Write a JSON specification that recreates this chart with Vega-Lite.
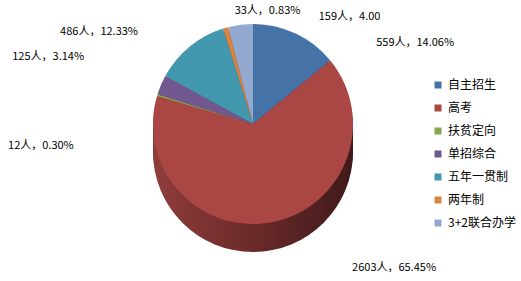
{
  "$schema": "https://vega.github.io/schema/vega-lite/v6.json",
  "width": 506,
  "height": 248,
  "padding": 0,
  "background": "white",
  "config": {"view": {"stroke": null}, "font": "Noto Sans CJK SC"},
  "data": {"values": [
    {"i": 1, "cat": "自主招生", "count": 559, "label": "559人，14.06%"},
    {"i": 2, "cat": "高考", "count": 2603, "label": "2603人，65.45%"},
    {"i": 3, "cat": "扶贫定向", "count": 12, "label": "12人，0.30%"},
    {"i": 4, "cat": "单招综合", "count": 125, "label": "125人，3.14%"},
    {"i": 5, "cat": "五年一贯制", "count": 486, "label": "486人，12.33%"},
    {"i": 6, "cat": "两年制", "count": 33, "label": "33人，0.83%"},
    {"i": 7, "cat": "3+2联合办学", "count": 159, "label": "159人，4.00"}
  ]},
  "layer": [
    {"transform": [{"filter": "datum.cat === '高考'"}], "mark": {"type": "arc", "radius": 100, "yOffset": 28, "color": {"gradient": "linear", "x1": 0, "x2": 1, "y1": 0, "y2": 0, "stops": [{"offset": 0, "color": "#8f3d3b"}, {"offset": 0.5, "color": "#6b2a29"}, {"offset": 1, "color": "#3f1a1a"}]}}, "encoding": {}},
    {"transform": [{"filter": "datum.cat === '高考'"}], "mark": {"type": "arc", "radius": 100, "yOffset": 25, "color": {"gradient": "linear", "x1": 0, "x2": 1, "y1": 0, "y2": 0, "stops": [{"offset": 0, "color": "#8f3d3b"}, {"offset": 0.5, "color": "#6b2a29"}, {"offset": 1, "color": "#3f1a1a"}]}}, "encoding": {}},
    {"transform": [{"filter": "datum.cat === '高考'"}], "mark": {"type": "arc", "radius": 100, "yOffset": 22, "color": {"gradient": "linear", "x1": 0, "x2": 1, "y1": 0, "y2": 0, "stops": [{"offset": 0, "color": "#8f3d3b"}, {"offset": 0.5, "color": "#6b2a29"}, {"offset": 1, "color": "#3f1a1a"}]}}, "encoding": {}},
    {"transform": [{"filter": "datum.cat === '高考'"}], "mark": {"type": "arc", "radius": 100, "yOffset": 19, "color": {"gradient": "linear", "x1": 0, "x2": 1, "y1": 0, "y2": 0, "stops": [{"offset": 0, "color": "#8f3d3b"}, {"offset": 0.5, "color": "#6b2a29"}, {"offset": 1, "color": "#3f1a1a"}]}}, "encoding": {}},
    {"transform": [{"filter": "datum.cat === '高考'"}], "mark": {"type": "arc", "radius": 100, "yOffset": 16, "color": {"gradient": "linear", "x1": 0, "x2": 1, "y1": 0, "y2": 0, "stops": [{"offset": 0, "color": "#8f3d3b"}, {"offset": 0.5, "color": "#6b2a29"}, {"offset": 1, "color": "#3f1a1a"}]}}, "encoding": {}},
    {"transform": [{"filter": "datum.cat === '高考'"}], "mark": {"type": "arc", "radius": 100, "yOffset": 13, "color": {"gradient": "linear", "x1": 0, "x2": 1, "y1": 0, "y2": 0, "stops": [{"offset": 0, "color": "#8f3d3b"}, {"offset": 0.5, "color": "#6b2a29"}, {"offset": 1, "color": "#3f1a1a"}]}}, "encoding": {}},
    {"transform": [{"filter": "datum.cat === '高考'"}], "mark": {"type": "arc", "radius": 100, "yOffset": 10, "color": {"gradient": "linear", "x1": 0, "x2": 1, "y1": 0, "y2": 0, "stops": [{"offset": 0, "color": "#8f3d3b"}, {"offset": 0.5, "color": "#6b2a29"}, {"offset": 1, "color": "#3f1a1a"}]}}, "encoding": {}},
    {"transform": [{"filter": "datum.cat === '高考'"}], "mark": {"type": "arc", "radius": 100, "yOffset": 7, "color": {"gradient": "linear", "x1": 0, "x2": 1, "y1": 0, "y2": 0, "stops": [{"offset": 0, "color": "#8f3d3b"}, {"offset": 0.5, "color": "#6b2a29"}, {"offset": 1, "color": "#3f1a1a"}]}}, "encoding": {}},
    {"transform": [{"filter": "datum.cat === '高考'"}], "mark": {"type": "arc", "radius": 100, "yOffset": 4, "color": {"gradient": "linear", "x1": 0, "x2": 1, "y1": 0, "y2": 0, "stops": [{"offset": 0, "color": "#8f3d3b"}, {"offset": 0.5, "color": "#6b2a29"}, {"offset": 1, "color": "#3f1a1a"}]}}, "encoding": {}},
    {
      "mark": {"type": "arc", "radius": 100},
      "encoding": {
        "theta": {"field": "count", "type": "quantitative", "stack": true},
        "order": {"field": "i", "type": "quantitative"},
        "color": {
          "field": "cat", "type": "nominal",
          "scale": {
            "domain": ["自主招生", "高考", "扶贫定向", "单招综合", "五年一贯制", "两年制", "3+2联合办学"],
            "range": ["#4572a7", "#aa4643", "#89a54e", "#71588f", "#4198af", "#db843d", "#93a9cf"]
          },
          "legend": {
            "orient": "none", "legendX": 432, "legendY": 79, "title": null,
            "symbolType": "square", "symbolSize": 49, "symbolStrokeWidth": 0,
            "labelFontSize": 12, "labelColor": "#000000", "labelFont": "Noto Sans CJK SC",
            "rowPadding": 11, "labelOffset": 4, "labelLimit": 100
          }
        }
      }
    },
    {
      "mark": {
        "type": "text", "radius": 115, "fontSize": 11, "color": "#000000", "font": "Noto Sans CJK SC",
        "dx": {"expr": "datum.cat==='自主招生'?113:datum.cat==='高考'?118:datum.cat==='扶贫定向'?-102:datum.cat==='单招综合'?-99:datum.cat==='五年一贯制'?-81:datum.cat==='两年制'?46:111"},
        "dy": {"expr": "datum.cat==='自主招生'?23:datum.cat==='高考'?31:datum.cat==='扶贫定向'?55:datum.cat==='单招综合'?-22:datum.cat==='五年一贯制'?-3:datum.cat==='两年制'?-2:7"}
      },
      "encoding": {
        "theta": {"field": "count", "type": "quantitative", "stack": true},
        "order": {"field": "i", "type": "quantitative"},
        "text": {"field": "label", "type": "nominal"}
      }
    }
  ]
}
